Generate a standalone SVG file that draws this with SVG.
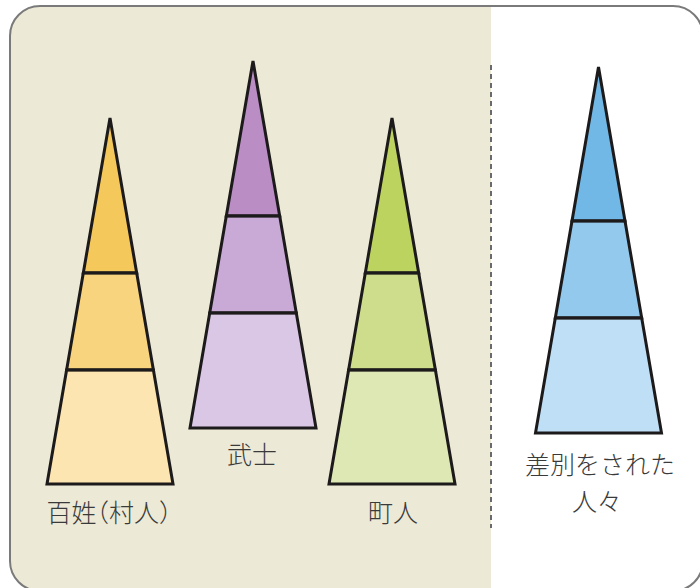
<svg xmlns="http://www.w3.org/2000/svg" width="700" height="588" viewBox="0 0 700 588">
<style>
.tri path{stroke:#1c1a1a;stroke-width:3;stroke-linejoin:miter}
.tri line{stroke:#1c1a1a;stroke-width:2.6}
.lbl{font-family:"Noto Sans CJK JP","Noto Sans CJK SC",sans-serif;font-size:25px;font-weight:300;fill:#3a3a3a;text-anchor:middle}
.halt{font-feature-settings:"halt"}
</style>
<rect x="0" y="0" width="700" height="588" fill="#ffffff"/>
<path d="M491,6 H40 A30,30 0 0 0 10,36 V561 A30,30 0 0 0 40,591 H491 Z" fill="#ECE9D6"/>
<rect x="10" y="6" width="693" height="585" rx="30" ry="30" fill="none" stroke="#7a7a7a" stroke-width="2"/>
<g id="divider">
<line x1="491" y1="65" x2="491" y2="528" stroke="#6a6a6a" stroke-width="2" stroke-dasharray="5,4"/>
</g>
<g id="hyakusho" class="tri">
<path d="M110,118 L136.7,273 L83.3,273 Z" fill="#F5C85C"/>
<path d="M83.3,273 L136.7,273 L153.4,370 L66.6,370 Z" fill="#F8D47E"/>
<path d="M66.6,370 L153.4,370 L173,484 L47,484 Z" fill="#FCE5B0"/>
<line x1="83.3" y1="273" x2="136.7" y2="273"/>
<line x1="66.6" y1="370" x2="153.4" y2="370"/>
<text class="lbl halt" x="109" y="522">百姓（村人）</text>
</g>
<g id="bushi" class="tri">
<path d="M253,61 L279.7,216 L226.3,216 Z" fill="#BA8DC5"/>
<path d="M226.3,216 L279.7,216 L296.3,313 L209.7,313 Z" fill="#C9AAD6"/>
<path d="M209.7,313 L296.3,313 L316,428 L190,428 Z" fill="#DAC6E5"/>
<line x1="226.3" y1="216" x2="279.7" y2="216"/>
<line x1="209.7" y1="313" x2="296.3" y2="313"/>
<text class="lbl" x="252" y="464">武士</text>
</g>
<g id="chonin" class="tri">
<path d="M392,118 L418.7,273 L365.3,273 Z" fill="#BCD360"/>
<path d="M365.3,273 L418.7,273 L435.4,370 L348.6,370 Z" fill="#CDDD8B"/>
<path d="M348.6,370 L435.4,370 L455,484 L329,484 Z" fill="#DEE8B5"/>
<line x1="365.3" y1="273" x2="418.7" y2="273"/>
<line x1="348.6" y1="370" x2="435.4" y2="370"/>
<text class="lbl" x="393" y="522">町人</text>
</g>
<g id="sabetsu" class="tri">
<path d="M598.5,67 L625,221 L572,221 Z" fill="#72B8E6"/>
<path d="M572,221 L625,221 L641.7,318 L555.3,318 Z" fill="#94C9EE"/>
<path d="M555.3,318 L641.7,318 L661.5,433 L535.5,433 Z" fill="#BEDFF6"/>
<line x1="572" y1="221" x2="625" y2="221"/>
<line x1="555.3" y1="318" x2="641.7" y2="318"/>
<text class="lbl" x="600" y="474">差別をされた</text>
<text class="lbl" x="597" y="511">人々</text>
</g>
</svg>
